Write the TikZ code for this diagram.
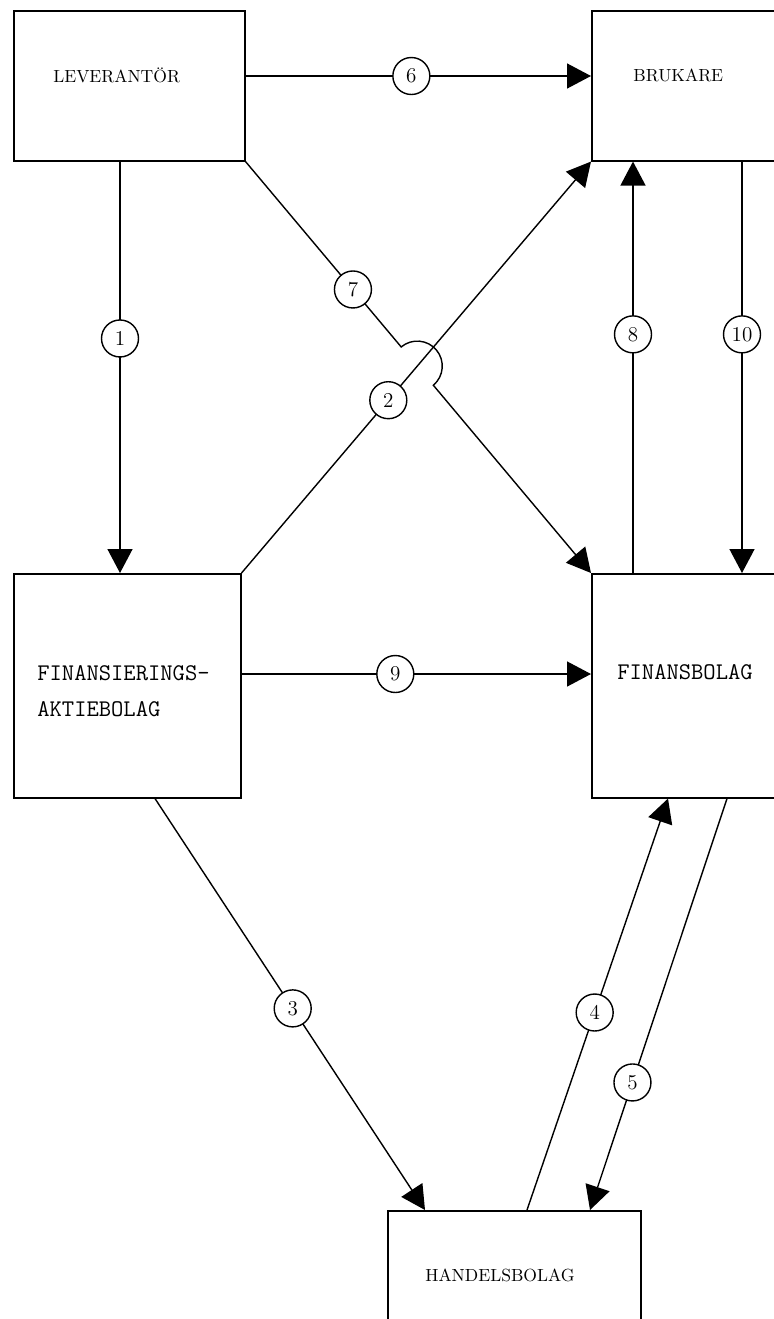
\documentclass[tikz,border=0pt]{standalone}
\usetikzlibrary{calc,arrows.meta}

\begin{document}
\begin{tikzpicture}[x=0.02cm, y=0.02cm,
	box/.style={draw=black, line width=0.9pt, anchor=north west, inner sep=0pt},
	num/.style={circle, draw=black, fill=white, line width=0.8pt, minimum size=0.74cm, inner sep=0pt, font=\large},
	arr/.style={line width=0.8pt, -{Triangle[length=0.48cm, width=0.5cm]}},
	rm/.style={anchor=base west, inner sep=0pt},
	tt/.style={anchor=base west, inner sep=0pt, font=\fontsize{13.6}{16}\selectfont\ttfamily}]

\useasboundingbox (0,0) rectangle (774,-1319);

% Boxes
\node[box, minimum width=4.62cm, minimum height=3cm] (lev) at (13,-10) {};
\node[box, minimum width=4.4cm, minimum height=3cm] (bru) at (591,-10) {};
\node[box, minimum width=4.54cm, minimum height=4.48cm] (fab) at (13,-573) {};
\node[box, minimum width=4.4cm, minimum height=4.48cm] (fb) at (591,-573) {};
\node[box, minimum width=5.06cm, minimum height=3cm] (hb) at (387,-1210) {};

% Texts
\node[rm] (levtxt) at (53,-82) {LEVERANTÖR};
\node[rm] (brutxt) at (633,-81) {BRUKARE};
\node[tt] (fabtxta) at (37,-680) {FINANSIERINGS-};
\node[tt] (fabtxtb) at (37,-716) {AKTIEBOLAG};
\node[tt] (fbtxt) at (617,-679) {FINANSBOLAG};
\node[rm] (hbtxt) at (425,-1281) {HANDELSBOLAG};

% Top row
\draw[arr] ($(lev.north east)+(0,-66)$) -- node[num, pos=0.48] (n6) {6} ($(bru.north west)+(0,-66)$);

% Left column
\coordinate (p1) at ($(lev.south west)+(107,0)$);
\draw[arr] (p1) -- node[num, pos=0.43] (n1) {1} (p1 |- fab.north);

% Crossing lines, 7 jumps over 2
\coordinate (cross) at (intersection of lev.south east--fb.north west and fab.north east--bru.south west);
\draw[arr] (fab.north east) -- node[num, pos=0.42] (n2) {2} (bru.south west);
\draw[arr] (lev.south east) -- node[num, pos=0.69] (n7) {7} ($(cross)!0.5cm!(lev.south east)$)
	arc[start angle=130, end angle=-50, radius=0.5cm] -- (fb.north west);

% Right column
\coordinate (p8) at ($(fb.north west)+(42,0)$);
\draw[arr] (p8) -- node[num, pos=0.58] (n8) {8} (p8 |- bru.south);
\coordinate (p10) at ($(bru.south west)+(151,0)$);
\draw[arr] (p10) -- node[num, pos=0.42] (n10) {10} (p10 |- fb.north);

% Middle row
\draw[arr] ($(fab.north east)+(0,-101)$) -- node[num, pos=0.44] (n9) {9} ($(fb.north west)+(0,-101)$);

% Down to the handelsbolag and back
\draw[arr] ($(fab.south west)+(142,0)$) -- node[num, pos=0.51] (n3) {3} ($(hb.north west)+(38,0)$);
\draw[arr] ($(hb.north west)+(140,0)$) -- node[num, pos=0.48] (n4) {4} ($(fb.south west)+(77,0)$);
\draw[arr] ($(fb.south west)+(136,0)$) -- node[num, pos=0.69] (n5) {5} ($(hb.north west)+(203,0)$);
\end{tikzpicture}
\end{document}
